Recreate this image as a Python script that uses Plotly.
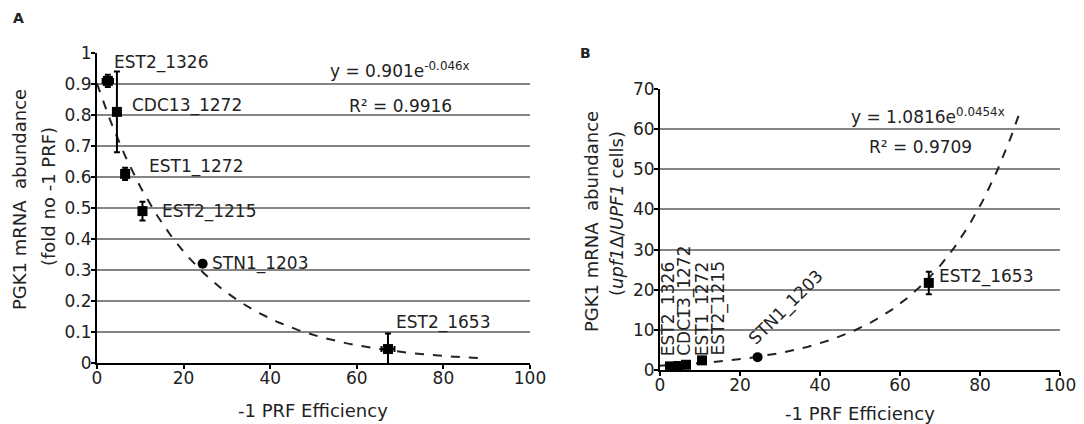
import plotly.graph_objects as go

FONT = "DejaVu Sans, Arial, sans-serif"

# ---------- data ----------
names = ["EST2_1326", "CDC13_1272", "EST1_1272", "EST2_1215", "STN1_1203", "EST2_1653"]
prf_eff = [2.5, 4.6, 6.5, 10.5, 24.4, 67.2]
prf_err = [1.2, 0.3, 0.8, 0.5, 0.5, 1.5]

# Panel A: fold no -1 PRF
a_vals = [0.91, 0.81, 0.61, 0.49, 0.32, 0.045]
a_err = [0.02, 0.13, 0.02, 0.03, 0.01, 0.05]
a_coef, a_rate = 0.901, -0.046

# Panel B: upf1Δ/UPF1
b_vals = [0.9, 1.0, 1.3, 2.4, 3.2, 21.7]
b_err = [0.2, 0.2, 0.2, 0.3, 0.3, 2.8]
b_coef, b_rate = 1.0816, 0.0454

fit_x = [i * 0.5 for i in range(0, 181)]
a_fit = [a_coef * 2.718281828 ** (a_rate * x) for x in fit_x]
b_fit = [b_coef * 2.718281828 ** (b_rate * x) for x in fit_x]

x_ticks = [0, 20, 40, 60, 80, 100]

# page has an 8px body margin: figure is placed at (8, 8)
OFF = 8
W, H = 1084 - OFF, 424 - OFF


def px(x):
    return (x - OFF) / W


def py(y):
    return 1 - (y - OFF) / H


fig = go.Figure()

symbols = ["square", "square", "square", "square", "circle", "square"]

fig.add_trace(go.Scatter(x=fit_x, y=a_fit, mode="lines",
                         line=dict(color="#222", width=2, dash="dash"),
                         xaxis="x", yaxis="y", showlegend=False, hoverinfo="skip"))
fig.add_trace(go.Scatter(x=prf_eff, y=a_vals, mode="markers",
                         marker=dict(color="black", size=10, symbol=symbols),
                         error_y=dict(type="data", array=a_err, color="black", thickness=2, width=3),
                         error_x=dict(type="data", array=prf_err, color="black", thickness=2, width=3),
                         xaxis="x", yaxis="y", showlegend=False))

fig.add_trace(go.Scatter(x=fit_x, y=b_fit, mode="lines",
                         line=dict(color="#222", width=2, dash="dash"),
                         xaxis="x2", yaxis="y2", showlegend=False, hoverinfo="skip"))
fig.add_trace(go.Scatter(x=prf_eff, y=b_vals, mode="markers",
                         marker=dict(color="black", size=10, symbol=symbols),
                         error_y=dict(type="data", array=b_err, color="black", thickness=2, width=3),
                         xaxis="x2", yaxis="y2", showlegend=False))

ax_common = dict(showline=True, linecolor="black", linewidth=2, ticks="outside",
                 ticklen=4, tickcolor="black", tickwidth=1.5, zeroline=False,
                 automargin=False,
                 tickfont=dict(family=FONT, size=17, color="#222"))

fig.update_layout(
    template="none",
    width=W, height=H, margin=dict(l=0, r=0, t=0, b=0, pad=0, autoexpand=False),
    paper_bgcolor="white", plot_bgcolor="white",
    font=dict(family=FONT, color="#222"),
    xaxis=dict(domain=[px(97), px(530)], range=[0, 100], tickvals=x_ticks,
               showgrid=False, anchor="y", ticklabelstandoff=-5, **ax_common),
    yaxis=dict(domain=[py(363), py(53)], range=[0, 1], dtick=0.1,
               showgrid=True, gridcolor="#858585", gridwidth=2, anchor="x",
               ticklabelstandoff=-4, **ax_common),
    xaxis2=dict(domain=[px(660), px(1060)], range=[0, 100], tickvals=x_ticks,
                showgrid=False, anchor="y2", ticklabelstandoff=-5, **ax_common),
    yaxis2=dict(domain=[py(370), py(89)], range=[0, 70], dtick=10,
                showgrid=True, gridcolor="#858585", gridwidth=2, anchor="x2",
                ticklabelstandoff=-4, **ax_common),
)

ann = []
lab_font = dict(family=FONT, size=17, color="#222")
# Panel A point labels
a_lab_x = [3.5, 7.6, 11.5, 14.5, 26.1, 68.6]
a_lab_y = [0.97, 0.83, 0.635, 0.49, 0.32, 0.13]
for n, lx, ly in zip(names, a_lab_x, a_lab_y):
    ann.append(dict(x=lx, y=ly, xref="x", yref="y", text=n, showarrow=False,
                    xanchor="left", yanchor="middle", font=lab_font))
eq_font = dict(family=FONT, size=17, color="#222")
ann.append(dict(x=70, y=0.945, xref="x", yref="y", text="y = 0.901e<sup>-0.046x</sup>",
                showarrow=False, xanchor="center", yanchor="middle", font=eq_font))
ann.append(dict(x=70, y=0.83, xref="x", yref="y", text="R² = 0.9916",
                showarrow=False, xanchor="center", yanchor="middle", font=eq_font))

# Panel B point labels
b_vert_x = [2.2, 6.2, 10.7, 14.5]
for n, lx in zip(names[:4], b_vert_x):
    ann.append(dict(x=lx, y=3.0, xref="x2", yref="y2", text=n, showarrow=False,
                    textangle=-90, xanchor="center", yanchor="bottom", font=lab_font))
ann.append(dict(x=31.5, y=15.5, xref="x2", yref="y2", text=names[4], showarrow=False,
                textangle=-45, xanchor="center", yanchor="middle", font=lab_font))
ann.append(dict(x=69.2, y=23.4, xref="x2", yref="y2", text=names[5], showarrow=False,
                xanchor="left", yanchor="middle", font=lab_font))
ann.append(dict(x=67, y=63.3, xref="x2", yref="y2", text="y = 1.0816e<sup>0.0454x</sup>",
                showarrow=False, xanchor="center", yanchor="middle", font=eq_font))
ann.append(dict(x=65, y=55.5, xref="x2", yref="y2", text="R² = 0.9709",
                showarrow=False, xanchor="center", yanchor="middle", font=eq_font))

title_font = dict(family=FONT, size=18, color="#222")


def pann(x, y, text, angle=0, font=title_font):
    return dict(x=px(x), y=py(y), xref="paper", yref="paper", text=text,
                textangle=angle, showarrow=False, xanchor="center", yanchor="middle",
                font=font)


ann += [
    pann(19, 200, "PGK1 mRNA  abundance", -90),
    pann(48, 197, "(fold no -1 PRF)", -90),
    pann(313, 410, "-1 PRF Efficiency"),
    pann(592, 222, "PGK1 mRNA  abundance", -90),
    pann(616, 214, "(<i>upf1</i>Δ/<i>UPF1</i> cells)", -90),
    pann(860, 413, "-1 PRF Efficiency"),
    pann(18, 18, "<b>A</b>", 0, dict(family=FONT, size=14, color="#222")),
    pann(585, 53, "<b>B</b>", 0, dict(family=FONT, size=14, color="#222")),
]
fig.update_layout(annotations=ann)

fig.write_html("out.html")
